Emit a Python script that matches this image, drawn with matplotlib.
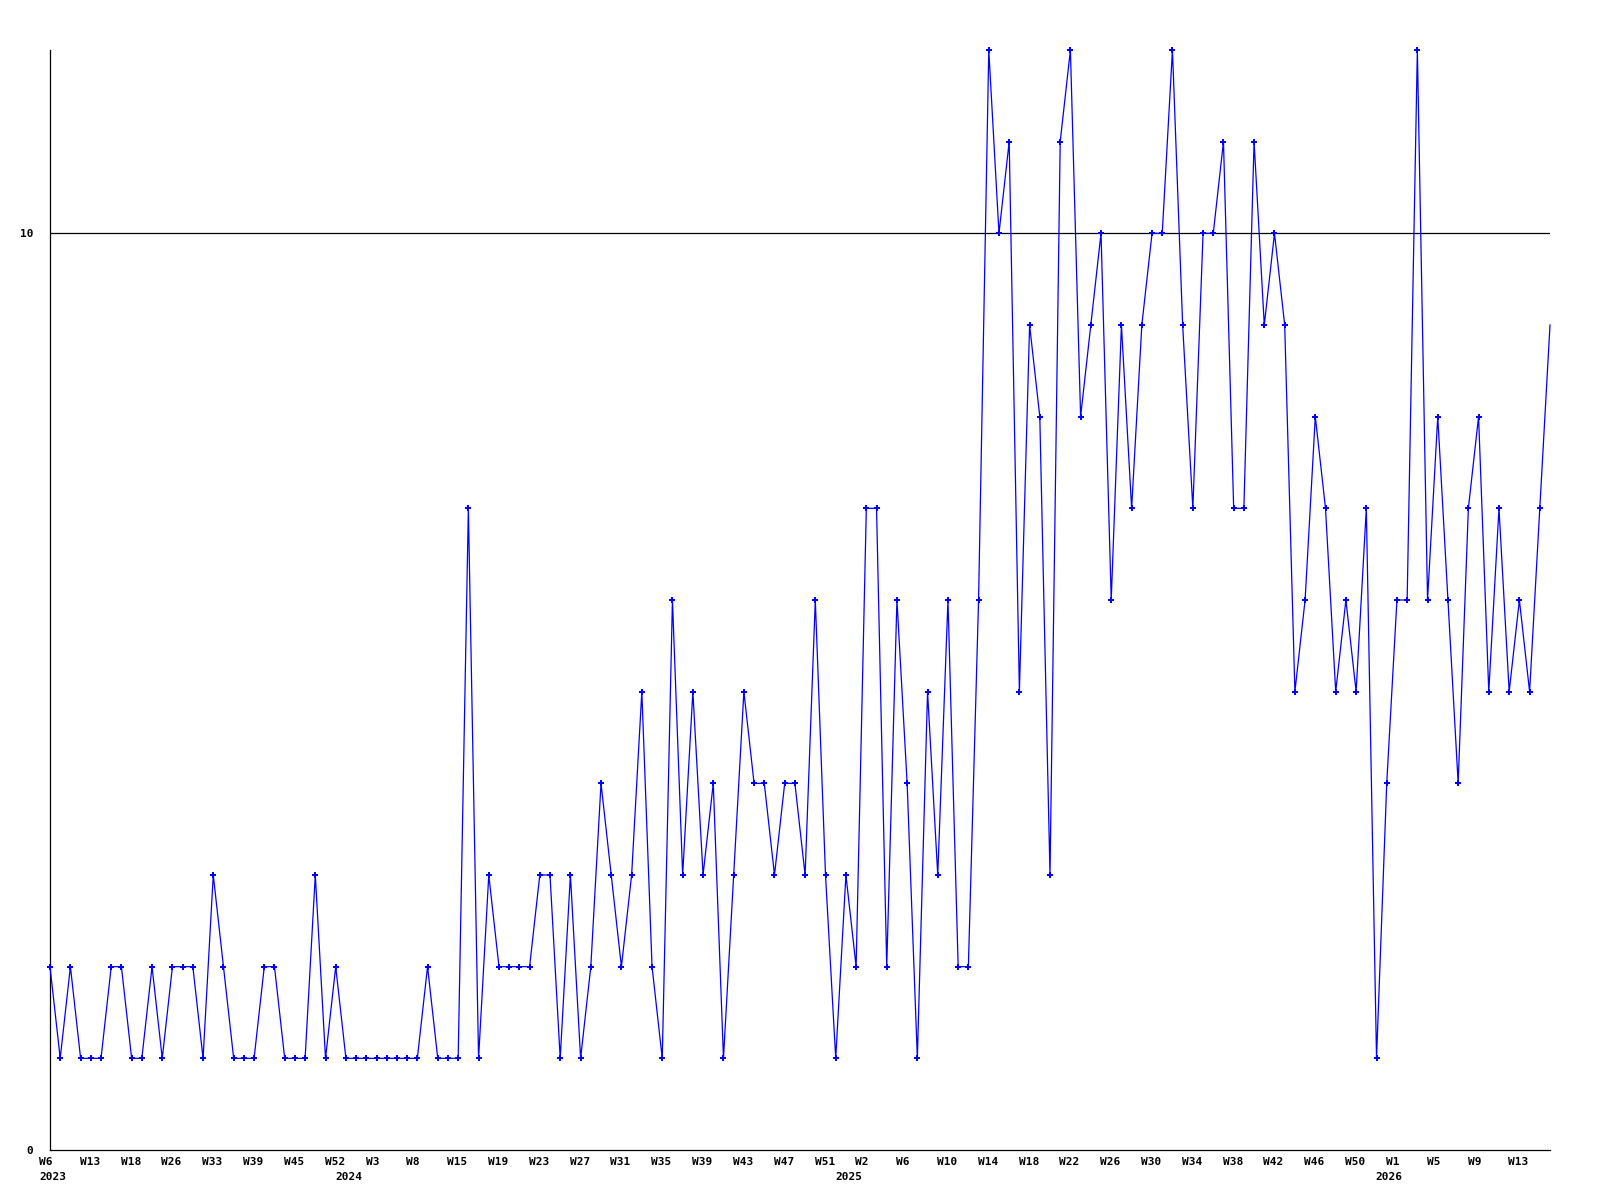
import matplotlib
matplotlib.use("Agg")
import matplotlib.pyplot as plt
import matplotlib.transforms as mtransforms

# weekly counts, one point per week with data
values = [2, 1, 2, 1, 1, 1, 2, 2, 1, 1, 2, 1, 2, 2, 2, 1, 3, 2, 1, 1,
          1, 2, 2, 1, 1, 1, 3, 1, 2, 1, 1, 1, 1, 1, 1, 1, 1, 2, 1, 1,
          1, 7, 1, 3, 2, 2, 2, 2, 3, 3, 1, 3, 1, 2, 4, 3, 2, 3, 5, 2,
          1, 6, 3, 5, 3, 4, 1, 3, 5, 4, 4, 3, 4, 4, 3, 6, 3, 1, 3, 2,
          7, 7, 2, 6, 4, 1, 5, 3, 6, 2, 2, 6, 12, 10, 11, 5, 9, 8, 3, 11,
          12, 8, 9, 10, 6, 9, 7, 9, 10, 10, 12, 9, 7, 10, 10, 11, 7, 7, 11, 9,
          10, 9, 5, 6, 8, 7, 5, 6, 5, 7, 1, 4, 6, 6, 12, 6, 8, 6, 4, 7,
          8, 5, 7, 5, 6, 5, 7, 9]

# week labels, every 4th point
week_labels = ["W6", "W13", "W18", "W26", "W33", "W39", "W45", "W52", "W3", "W8",
               "W15", "W19", "W23", "W27", "W31", "W35", "W39", "W43", "W47", "W51",
               "W2", "W6", "W10", "W14", "W18", "W22", "W26", "W30", "W34", "W38",
               "W42", "W46", "W50", "W1", "W5", "W9", "W13"]

# year labels and the point index where each year starts
years = ["2023", "2024", "2025", "2026"]
year_pos = [0, 29, 78, 131]

x = list(range(len(values)))

fig = plt.figure(figsize=(16, 12), dpi=100)
ax = fig.add_axes([50 / 1600, 50 / 1200, 1500 / 1600, 1100 / 1200])

# line runs to the right edge, the last (current) week has no marker
ax.plot(x, values, color="#0000ff", lw=0.9, marker="P", markersize=4,
        markeredgewidth=0, markevery=slice(0, len(values) - 1),
        clip_on=False, zorder=3)
ax.axhline(10, color="black", lw=0.9, zorder=2)

ax.set_xlim(0, len(values) - 1)
ax.set_ylim(0, 12)

for s in ["top", "right"]:
    ax.spines[s].set_visible(False)
for s in ["left", "bottom"]:
    ax.spines[s].set_linewidth(0.9)
    ax.spines[s].set_color("black")

mono = dict(family="DejaVu Sans Mono", fontweight="bold", fontsize=8)

ax.set_yticks([0, 10])
ax.set_yticklabels(["0", "10"], **mono)
ax.tick_params(axis="y", length=0, pad=12)

ax.set_xticks(range(0, len(values), 4))
ax.set_xticklabels(week_labels, **mono)
ax.tick_params(axis="x", length=0, pad=5)
shift = mtransforms.ScaledTranslation(-11 / 100, 0, fig.dpi_scale_trans)
for lab in ax.get_xticklabels():
    lab.set_horizontalalignment("left")
    lab.set_transform(lab.get_transform() + shift)

trans = ax.get_xaxis_transform() + shift
for yr, p in zip(years, year_pos):
    ax.text(p, -27 / 1100, yr, transform=trans, ha="left", va="center", **mono)

fig.savefig("out.png", dpi=100, facecolor="white")
